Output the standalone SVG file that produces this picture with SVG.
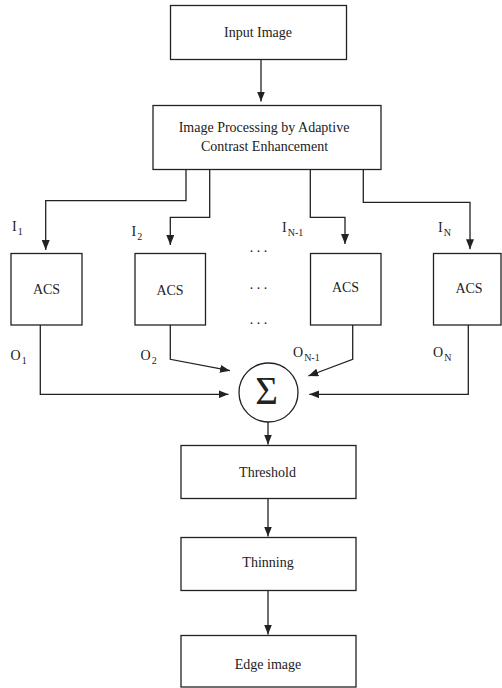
<svg xmlns="http://www.w3.org/2000/svg" width="502" height="688" viewBox="0 0 502 688">
<defs>
<marker id="ah" viewBox="0 0 10 8" refX="10" refY="4" markerWidth="10" markerHeight="8" markerUnits="userSpaceOnUse" orient="auto">
<path d="M0,0 L10,4 L0,8 z" fill="#222"/>
</marker>
<style>
.box{fill:#fff;stroke:#222;stroke-width:1.3}
.t{font-family:"Liberation Serif","Times New Roman",serif;font-size:14px;fill:#222}
.c{text-anchor:middle}
.s{font-size:10px}
.ln{fill:none;stroke:#222;stroke-width:1.3;marker-end:url(#ah)}
.dots{font-family:"Liberation Serif",serif;font-size:14px;fill:#222}
</style>
</defs>
<rect width="502" height="688" fill="#fff"/>

<g id="input">
<rect class="box" x="170.5" y="5.5" width="176" height="54"/>
<text class="t c" x="258" y="37">Input Image</text>
</g>

<g id="ip">
<rect class="box" x="153" y="105.5" width="228" height="64"/>
<text class="t c" x="264" y="132">Image Processing by Adaptive</text>
<text class="t c" x="264.5" y="151">Contrast Enhancement</text>
</g>

<g id="acs1">
<rect class="box" x="11" y="253.5" width="71" height="71.5"/>
<text class="t c" x="46.5" y="294">ACS</text>
</g>
<g id="acs2">
<rect class="box" x="135" y="253.5" width="70.5" height="71.5"/>
<text class="t c" x="170" y="294.5">ACS</text>
</g>
<g id="acs3">
<rect class="box" x="310.5" y="253.5" width="70.5" height="71.5"/>
<text class="t c" x="345.5" y="292">ACS</text>
</g>
<g id="acsN">
<rect class="box" x="433.5" y="253.5" width="67.5" height="71.5"/>
<text class="t c" x="469" y="292.5">ACS</text>
</g>

<g id="dots">
<text class="dots c" x="258.5" y="252">. . .</text>
<text class="dots c" x="258.5" y="288.5">. . .</text>
<text class="dots c" x="258.5" y="323.5">. . .</text>
</g>

<g id="sum">
<circle cx="268.5" cy="392.5" r="29.5" fill="#fff" stroke="#222" stroke-width="1.3"/>
<text class="t c" x="266.5" y="404" style="font-size:39px">Σ</text>
</g>

<g id="threshold">
<rect class="box" x="181" y="445.5" width="175" height="53"/>
<text class="t c" x="267.5" y="477">Threshold</text>
</g>
<g id="thinning">
<rect class="box" x="181" y="537.5" width="175" height="53"/>
<text class="t c" x="268" y="567">Thinning</text>
</g>
<g id="edge">
<rect class="box" x="181" y="635.5" width="175" height="51.5"/>
<text class="t c" x="268" y="669">Edge image</text>
</g>

<g id="labels">
<text class="t" x="12" y="231">I<tspan class="s" dx="1" dy="4">1</tspan></text>
<text class="t" x="131.5" y="236">I<tspan class="s" dx="1" dy="4">2</tspan></text>
<text class="t" x="282" y="232">I<tspan class="s" dx="1" dy="4">N-1</tspan></text>
<text class="t" x="438" y="232">I<tspan class="s" dx="1" dy="4">N</tspan></text>
<text class="t" x="10.5" y="360">O<tspan class="s" dx="1" dy="4">1</tspan></text>
<text class="t" x="140.5" y="360">O<tspan class="s" dx="1" dy="4">2</tspan></text>
<text class="t" x="293" y="357">O<tspan class="s" dx="1" dy="4">N-1</tspan></text>
<text class="t" x="433" y="357">O<tspan class="s" dx="1" dy="4">N</tspan></text>
</g>

<g id="connectors">
<path class="ln" d="M261,59.5 V101.5"/>
<path class="ln" d="M186,169.5 V200.7 H45.7 V250"/>
<path class="ln" d="M209.7,169.5 V217.3 H170.3 V245"/>
<path class="ln" d="M310.3,169.5 V217.3 H345 V244"/>
<path class="ln" d="M363.3,169.5 V202.3 H470 V249.3"/>
<path class="ln" d="M40.3,325 V394.3 H228.5"/>
<path class="ln" d="M170.3,325 V359.3 L230,370.7"/>
<path class="ln" d="M352.7,325 V359.3 L308.3,376"/>
<path class="ln" d="M468.3,325 V394.3 H309.3"/>
<path class="ln" d="M268,422 V444.5"/>
<path class="ln" d="M268,498.5 V536.5"/>
<path class="ln" d="M268,590.5 V634.5"/>
</g>
</svg>
